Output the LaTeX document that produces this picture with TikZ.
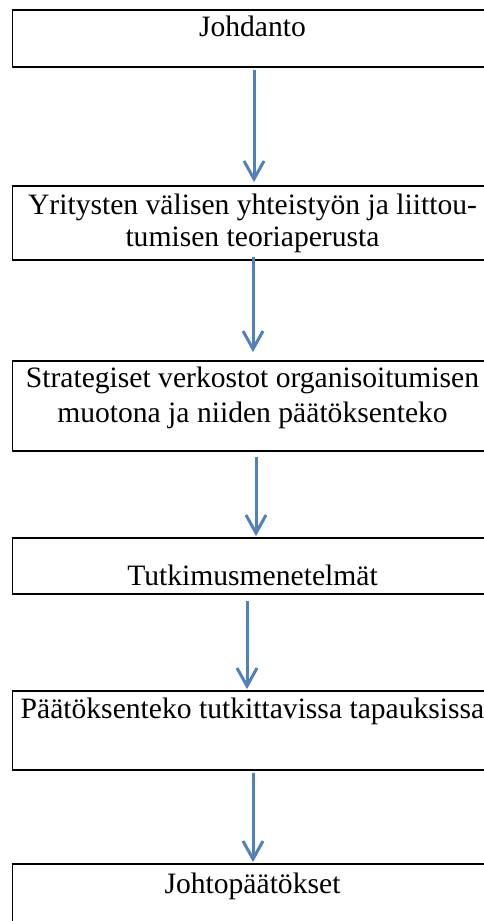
\documentclass[tikz,border=0pt]{standalone}
\usepackage{fontspec}
\setmainfont{Liberation Serif}
\usetikzlibrary{arrows.meta, positioning}
\definecolor{nuolisin}{RGB}{79,129,189}
\begin{document}
\begin{tikzpicture}[x=0.5pt, y=-0.5pt,
    laatikko/.style={draw, line width=0.9pt, minimum width=240pt, inner sep=0pt},
    teksti/.style={anchor=base, align=center, inner sep=0pt, font=\fontsize{14.8}{16}\selectfont},
    nuoli/.style={-{Straight Barb[length=9pt, width=10pt, line width=1.5pt]}, line width=1.5pt, draw=nuolisin}]
    \useasboundingbox (0,0) rectangle (483,921);
    \node[laatikko, minimum height=28.5pt] (b1) at (252.5,38.5) {};
    \node[laatikko, minimum height=37pt] (b2) at (252.5,223) {};
    \node[laatikko, minimum height=45pt] (b3) at (252.5,406) {};
    \node[laatikko, minimum height=28pt] (b4) at (252.5,566) {};
    \node[laatikko, minimum height=39.5pt] (b5) at (252.5,730.5) {};
    \node[laatikko, minimum height=48pt] (b6) at (252.5,912) {};
    \node[teksti] (t1) at (252.5,36) {Johdanto};
    \node[teksti] (t2) at (252.5,246) {Yritysten välisen yhteistyön ja liittou-\\tumisen teoriaperusta};
    \node[teksti, font=\fontsize{14.8}{17.5}\selectfont] (t3) at (252.5,422) {Strategiset verkostot organisoitumisen\\muotona ja niiden päätöksenteko};
    \node[teksti] (t4) at (252.5,585) {Tutkimusmenetelmät};
    \node[teksti] (t5) at (252.5,718) {Päätöksenteko tutkittavissa tapauksissa};
    \node[teksti] (t6) at (252.5,893) {Johtopäätökset};
    \draw[nuoli, shorten <=1pt, shorten >=1.5pt] ([xshift=0.75pt]b1.south) -- ([xshift=0.75pt]b2.north);
    \draw[nuoli, shorten <=-2pt, shorten >=4pt] ([xshift=0.25pt]b2.south) -- ([xshift=0.25pt]b3.north);
    \draw[nuoli, shorten <=2.5pt, shorten >=0.5pt] ([xshift=1.75pt]b3.south) -- ([xshift=1.75pt]b4.north);
    \draw[nuoli, shorten <=3pt, shorten >=0.5pt] ([xshift=-2.75pt]b4.south) -- ([xshift=-2.75pt]b5.north);
    \draw[nuoli, shorten <=1pt, shorten >=0.5pt] ([xshift=0.25pt]b5.south) -- ([xshift=0.25pt]b6.north);
\end{tikzpicture}
\end{document}
